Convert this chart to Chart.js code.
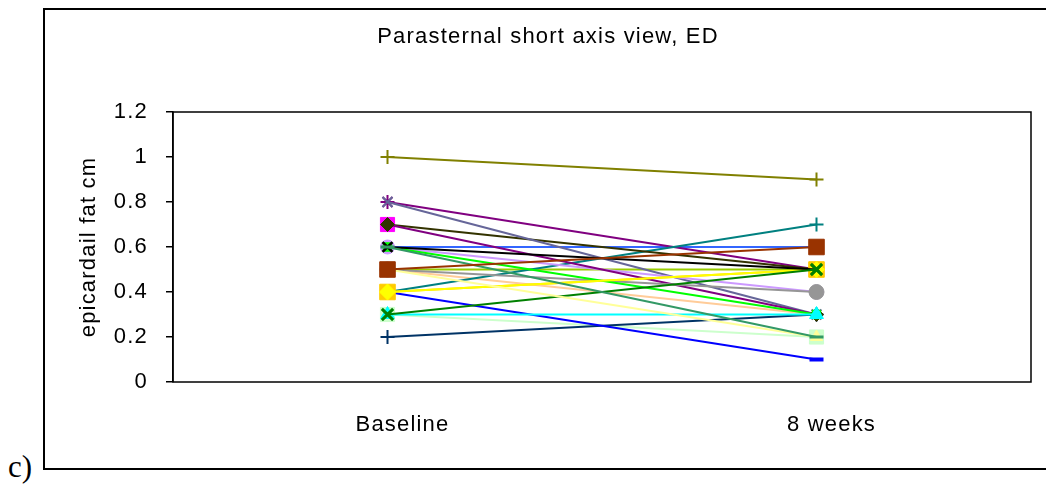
<!DOCTYPE html>
<html>
<head>
<meta charset="utf-8">
<title>Parasternal short axis view, ED</title>
<script src="https://cdn.jsdelivr.net/npm/chart.js@4"></script>
<style>
  html, body { margin: 0; padding: 0; background: #fff; width: 1046px; height: 484px; overflow: hidden; }
  #frame { position: absolute; left: 43px; top: 8px; width: 1100px; height: 458px; border: 2px solid #000; }
  #wrap { position: absolute; left: 44px; top: 9px; width: 1002px; height: 460px; }
  #tag { position: absolute; left: 8px; top: 451px; font-family: "Liberation Serif", "Times New Roman", serif; font-size: 31px; color: #000; line-height: 31px; }
</style>
</head>
<body>
<div id="frame"></div>
<div id="tag">c)</div>
<div id="wrap"><canvas id="chart" width="1002" height="460"></canvas></div>
<script>
// Time points on the category axis
const categories = ['Baseline', '8 weeks'];

// Epicardial fat thickness (cm) for each subject at each time point
const baseline = [1.0, 0.8, 0.8, 0.7, 0.7, 0.6, 0.6, 0.6, 0.6, 0.6, 0.5, 0.5,
                  0.5, 0.5, 0.5, 0.4, 0.4, 0.4, 0.4, 0.3, 0.3, 0.3, 0.2];
const week8    = [0.9, 0.5, 0.3, 0.5, 0.3, 0.6, 0.5, 0.3, 0.4, 0.2, 0.6, 0.5,
                  0.4, 0.3, 0.2, 0.5, 0.5, 0.7, 0.1, 0.5, 0.3, 0.2, 0.3];

// Value axis labels
const yTickLabels = ['0', '0.2', '0.4', '0.6', '0.8', '1', '1.2'];

// Chart heading and axis title
const chartTitle = 'Parasternal short axis view, ED';
const yTitle = 'epicardail fat cm';

// Per-subject line colour, marker appearance and stacking (higher z sits on top)
const styles = [
  { line: '#808000', marker: 'cross',    r: 7,   fill: '#808000', bw: 2,   z: 1 },
  { line: '#800080', marker: 'star',     r: 7,   fill: '#800080', bw: 2,   z: 1 },
  { line: '#666699', marker: 'crossRot', r: 7,   fill: '#666699', bw: 2,   z: 2 },
  { line: '#333300', marker: 'rect',     r: 10,  fill: '#FF00FF', bw: 1,   z: 2 },
  { line: '#800080', marker: 'rectRot',  r: 7,   fill: '#333300', bw: 1,   z: 3 },
  { line: '#3366FF', marker: false,      r: 0,   z: 1 },
  { line: '#000000', marker: 'crossRot', r: 7,   fill: '#000000', bw: 2.5, z: 6 },
  { line: '#00FF00', marker: 'rect',     r: 6,   fill: '#00FF00', bw: 1,   z: 5 },
  { line: '#CC99FF', marker: 'circle',   r: 7,   fill: '#CC99FF', bw: 1,   z: 3 },
  { line: '#339966', marker: 'line',     r: 7,   fill: '#339966', bw: 3,   z: 9 },
  { line: '#993300', marker: 'rect',     r: 11,  fill: '#993300', bw: 1,   z: 10 },
  { line: '#99CC00', marker: false,      r: 0,   z: 1 },
  { line: '#969696', marker: 'circle',   r: 7.5, fill: '#969696', bw: 1,   z: 4 },
  { line: '#FFCC99', marker: false,      r: 0,   z: 1 },
  { line: '#FFFF99', marker: 'triangle', r: 7,   fill: '#FFFF99', bw: 1,   z: 8 },
  { line: '#FFFF00', marker: 'rectRot',  r: 8,   fill: '#FFFF00', bw: 1,   z: 6 },
  { line: '#FFCC00', marker: 'rect',     r: 11,  fill: '#FFCC00', bw: 1,   z: 5 },
  { line: '#008080', marker: 'cross',    r: 7,   fill: '#008080', bw: 2,   z: 2 },
  { line: '#0000FF', marker: 'line',     r: 7,   fill: '#0000FF', bw: 4,   z: 2 },
  { line: '#008000', marker: 'crossRot', r: 8,   fill: '#008000', bw: 3,   z: 8 },
  { line: '#00FFFF', marker: 'triangle', r: 8,   fill: '#00FFFF', bw: 1,   z: 7 },
  { line: '#CCFFCC', marker: 'rect',     r: 10,  fill: '#CCFFCC', bw: 1,   z: 1 },
  { line: '#003366', marker: 'cross',    r: 7,   fill: '#003366', bw: 2,   z: 2 }
];

const datasets = baseline.map((b, i) => {
  const s = styles[i];
  return {
    label: 'Subject ' + (i + 1),
    data: [b, week8[i]],
    order: -s.z,
    borderColor: s.line,
    borderWidth: 2,
    fill: false,
    tension: 0,
    pointStyle: s.marker,
    pointRadius: s.r,
    pointBackgroundColor: s.fill || s.line,
    pointBorderColor: s.fill || s.line,
    pointBorderWidth: s.bw || 1
  };
});

const fontFamily = '"Liberation Sans", Arial, sans-serif';
const font = { family: fontFamily, size: 22 };

// Slightly wider text spacing for all chart labels
const textSpacing = {
  id: 'textSpacing',
  beforeUpdate(chart) { chart.ctx.letterSpacing = '1.2px'; },
  beforeDraw(chart) { chart.ctx.letterSpacing = '1.2px'; }
};

// Box around the plot area
const plotFrame = {
  id: 'plotFrame',
  beforeDatasetsDraw(chart) {
    const { ctx, chartArea: a } = chart;
    ctx.save();
    ctx.strokeStyle = '#000';
    ctx.lineWidth = 1.5;
    ctx.strokeRect(a.left, a.top, a.right - a.left, a.bottom - a.top);
    ctx.restore();
  }
};

// Heading, centred over the whole figure panel rather than the plot
const heading = {
  id: 'heading',
  afterDraw(chart) {
    const { ctx } = chart;
    ctx.save();
    ctx.letterSpacing = '1.2px';
    ctx.font = `22px ${fontFamily}`;
    ctx.fillStyle = '#000';
    ctx.textAlign = 'center';
    ctx.textBaseline = 'middle';
    ctx.fillText(chartTitle, 504, 28);
    ctx.restore();
  }
};

new Chart(document.getElementById('chart'), {
  type: 'line',
  data: { labels: categories, datasets },
  plugins: [textSpacing, plotFrame, heading],
  options: {
    responsive: false,
    animation: false,
    devicePixelRatio: 1,
    events: [],
    layout: { padding: { left: 0, right: 15, top: 103, bottom: 0 } },
    plugins: {
      legend: { display: false },
      tooltip: { enabled: false },
      title: { display: false }
    },
    scales: {
      x: {
        offset: true,
        grid: { display: false, drawTicks: false },
        border: { display: false },
        ticks: { color: '#000', font, padding: 30, labelOffset: 15, maxRotation: 0 },
        afterFit(scale) { scale.height = 87; }
      },
      y: {
        min: 0,
        max: 1.2,
        ticks: {
          stepSize: 0.2,
          color: '#000',
          font,
          padding: 18,
          callback: (v, i) => yTickLabels[i]
        },
        grid: { drawOnChartArea: false, drawTicks: true, tickLength: 7, color: '#000', lineWidth: 1.5 },
        border: { display: true, color: '#000', width: 1.5 },
        title: {
          display: true,
          text: yTitle,
          color: '#000',
          font,
          padding: { top: 32, bottom: 0 }
        },
        afterFit(scale) { scale.width = 129; }
      }
    }
  }
});
</script>
</body>
</html>
